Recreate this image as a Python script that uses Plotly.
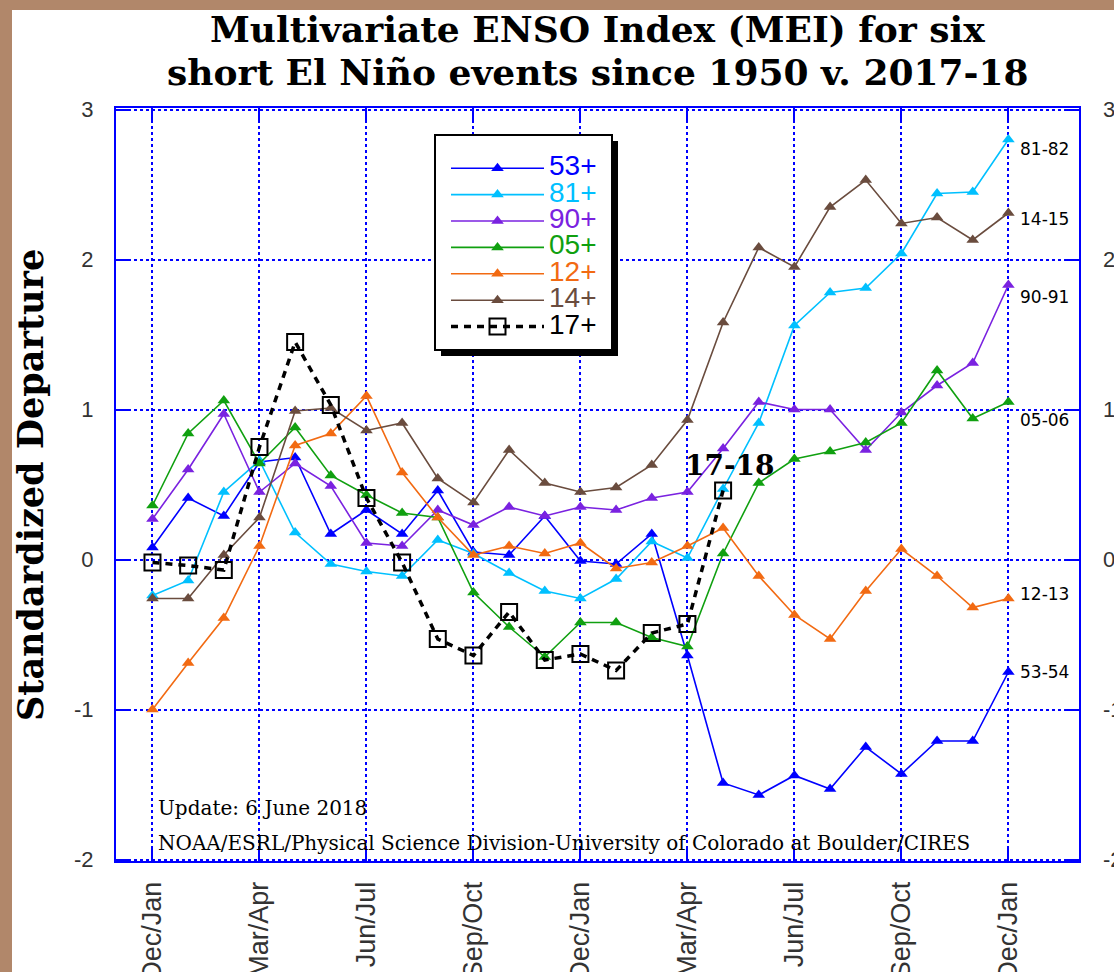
import plotly.graph_objects as go

# ---- data ----
season_ticks = ["Dec/Jan", "Mar/Apr", "Jun/Jul", "Sep/Oct", "Dec/Jan",
                "Mar/Apr", "Jun/Jul", "Sep/Oct", "Dec/Jan"]
y_ticks = [3, 2, 1, 0, -1, -2]

mei_53 = [0.08, 0.41, 0.29, 0.65, 0.68, 0.17, 0.33, 0.17, 0.46, 0.05, 0.03, 0.29, -0.01,
          -0.03, 0.17, -0.64, -1.49, -1.57, -1.44, -1.53, -1.25, -1.43, -1.21, -1.21, -0.75]
mei_81 = [-0.24, -0.14, 0.45, 0.66, 0.18, -0.03, -0.08, -0.11, 0.13, 0.04, -0.09, -0.21, -0.26,
          -0.13, 0.12, 0.01, 0.47, 0.91, 1.56, 1.78, 1.81, 2.04, 2.44, 2.45, 2.80]
mei_90 = [0.27, 0.60, 0.97, 0.45, 0.64, 0.49, 0.11, 0.09, 0.33, 0.23, 0.35, 0.29, 0.35,
          0.33, 0.41, 0.45, 0.74, 1.05, 1.00, 1.00, 0.73, 0.98, 1.16, 1.31, 1.83]
mei_05 = [0.36, 0.84, 1.06, 0.64, 0.88, 0.56, 0.43, 0.31, 0.28, -0.22, -0.45, -0.65, -0.42,
          -0.42, -0.52, -0.58, 0.04, 0.51, 0.67, 0.72, 0.78, 0.91, 1.26, 0.94, 1.05]
mei_12 = [-1.00, -0.69, -0.39, 0.09, 0.76, 0.84, 1.09, 0.58, 0.28, 0.03, 0.09, 0.04, 0.11,
          -0.06, -0.02, 0.09, 0.21, -0.11, -0.37, -0.53, -0.21, 0.07, -0.11, -0.32, -0.26]
mei_14 = [-0.26, -0.26, 0.03, 0.28, 0.99, 1.01, 0.86, 0.91, 0.54, 0.38, 0.73, 0.51, 0.45,
          0.48, 0.63, 0.93, 1.58, 2.08, 1.95, 2.35, 2.53, 2.24, 2.28, 2.13, 2.31]
mei_17 = [-0.02, -0.04, -0.07, 0.75, 1.45, 1.03, 0.41, -0.02, -0.53, -0.64, -0.35, -0.67, -0.63,
          -0.74, -0.49, -0.43, 0.46]

names = ["53+", "81+", "90+", "05+", "12+", "14+"]
colors = ["#0000ff", "#00c0ff", "#7a22e0", "#10a010", "#f26a12", "#6a4c3e"]
end_labels = ["53-54", "81-82", "90-91", "05-06", "12-13", "14-15"]
end_label_y = [-0.75, 2.74, 1.75, 0.93, -0.23, 2.27]
series = [mei_53, mei_81, mei_90, mei_05, mei_12, mei_14]

# ---- geometry ----
W, H = 1114, 972
ML, MR, MT, MB = 116, 35, 108, 111
PW, PH = W - ML - MR, H - MT - MB


def px(xp):
    return (xp - ML) / PW


def py(yp):
    return (H - MB - yp) / PH


fig = go.Figure()

for name, col, vals in zip(names, colors, series):
    fig.add_trace(go.Scatter(
        x=list(range(len(vals))), y=vals, mode="lines+markers",
        name=f'<span style="font-size:28px;color:{col}">{name}</span>',
        line=dict(color=col, width=1.6),
        marker=dict(symbol="triangle-up", size=11, color=col),
    ))

fig.add_trace(go.Scatter(
    x=list(range(len(mei_17))), y=mei_17, mode="lines+markers",
    name='<span style="font-size:28px;color:#000">17+</span>',
    line=dict(color="black", width=3.5, dash="7px,6px"),
    marker=dict(symbol="square-open", size=16, color="black", line=dict(width=2, color="black")),
))

tick_font = dict(family="Liberation Sans, Arial, sans-serif", size=22, color="#333")
brown = "#b1876a"

fig.update_layout(
    width=W, height=H,
    margin=dict(l=ML, r=MR, t=MT, b=MB, pad=0, autoexpand=False),
    paper_bgcolor="white", plot_bgcolor="white",
    showlegend=True,
    legend=dict(
        x=px(446), y=py(150), xanchor="left", yanchor="top",
        bgcolor="rgba(0,0,0,0)", borderwidth=0,
        font=dict(family="Liberation Sans, Arial, sans-serif", size=18, color="black"),
        itemwidth=93, tracegroupgap=0,
    ),
    xaxis=dict(
        range=[-1.023, 25.98], tickmode="array",
        tickvals=list(range(0, 25, 3)), ticktext=season_ticks,
        tickangle=-90, tickfont=dict(family="Liberation Sans, Arial, sans-serif", size=27, color="#333"),
        showgrid=True, gridcolor="#0000ff", griddash="dot", gridwidth=1.5,
        showline=True, linecolor="#0000ff", linewidth=2, mirror="ticks",
        ticks="inside", ticklen=12, tickwidth=2, tickcolor="#0000ff",
        zeroline=False, ticklabelstandoff=8, automargin=False,
    ),
    yaxis=dict(
        range=[-2.01, 3.01], tickmode="array", tickvals=y_ticks,
        ticktext=[str(v) for v in y_ticks], tickfont=tick_font,
        showgrid=True, gridcolor="#0000ff", griddash="dot", gridwidth=1.5,
        showline=True, linecolor="#0000ff", linewidth=2, mirror="ticks",
        ticks="inside", ticklen=14, tickwidth=2, tickcolor="#0000ff",
        zeroline=False, ticklabelstandoff=16, automargin=False,
    ),
)

# brown frame strips on the left and top edges (drawn as a path, same layer)
x_l, x_r = px(0), px(W)
y_b, y_t = py(H), py(0)
x_in, y_in = px(12), py(10)
frame_path = (f"M {x_l},{y_b} L {x_l},{y_t} L {x_r},{y_t} L {x_r},{y_in} "
              f"L {x_in},{y_in} L {x_in},{y_b} Z")
fig.add_shape(type="path", xref="paper", yref="paper", path=frame_path,
              fillcolor=brown, line=dict(width=0), layer="above")

# legend box with drop shadow
fig.add_shape(type="rect", xref="paper", yref="paper", x0=px(441), x1=px(618), y0=py(356), y1=py(141),
              fillcolor="black", line=dict(width=0), layer="above")
fig.add_shape(type="rect", xref="paper", yref="paper", x0=px(435), x1=px(612), y0=py(350), y1=py(135),
              fillcolor="white", line=dict(width=2, color="black"), layer="above")

# right-hand axis labels (cut by the page edge as in the reference)
for v in y_ticks:
    fig.add_annotation(text=str(v), xref="paper", yref="y", x=px(1101), y=v, xanchor="left",
                       yanchor="middle", showarrow=False, font=tick_font)

# title (two lines)
title_font = dict(family="DejaVu Serif, serif", size=36, color="black", weight="bold")
fig.add_annotation(text="Multivariate ENSO Index (MEI) for six", xref="paper", yref="paper",
                   x=0.5, y=py(29), xanchor="center", yanchor="middle", showarrow=False,
                   font=title_font)
fig.add_annotation(text="short El Niño events since 1950 v. 2017-18", xref="paper", yref="paper",
                   x=0.5, y=py(72), xanchor="center", yanchor="middle", showarrow=False,
                   font=title_font)
# y-axis title
fig.add_annotation(
    text="<b>Standardized Departure</b>", xref="paper", yref="paper", x=px(30), y=py(485),
    textangle=-90, showarrow=False, xanchor="center", yanchor="middle",
    font=dict(family="DejaVu Serif, serif", size=35, color="black"),
)
# end labels
for lab, yv in zip(end_labels, end_label_y):
    fig.add_annotation(text=lab, x=24.27, y=yv, xref="x", yref="y", xanchor="left",
                       yanchor="middle", showarrow=False,
                       font=dict(family="DejaVu Sans, sans-serif", size=17, color="black"))
# 17-18 label
fig.add_annotation(text="<b>17-18</b>", x=16.19, y=0.63, xref="x", yref="y", showarrow=False,
                   font=dict(family="DejaVu Serif, serif", size=28, color="black"))
# credits
credit_font = dict(family="DejaVu Serif, serif", size=20, color="black")
fig.add_annotation(text="Update: 6 June 2018", xref="paper", yref="paper", x=px(156), y=py(808),
                   xanchor="left", yanchor="middle", showarrow=False, font=credit_font)
fig.add_annotation(text="NOAA/ESRL/Physical Science Division-University of Colorado at Boulder/CIRES",
                   xref="paper", yref="paper", x=px(156), y=py(843),
                   xanchor="left", yanchor="middle", showarrow=False, font=credit_font)

fig.write_html(
    "out.html", config={"displayModeBar": False},
    post_script="document.body.style.margin='0px';document.documentElement.style.overflow='hidden';"
                "window.scrollTo(0,0);",
)
